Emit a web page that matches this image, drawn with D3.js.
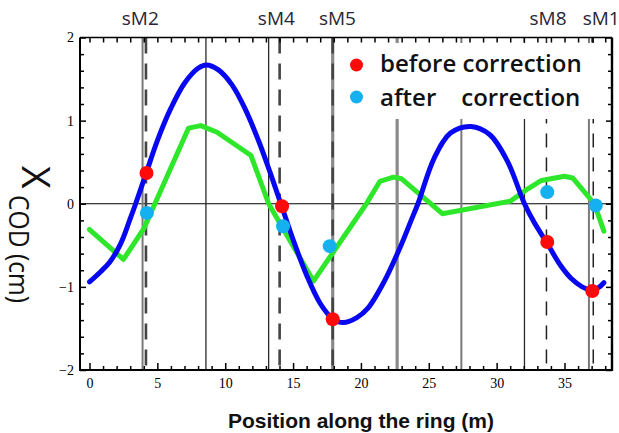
<!DOCTYPE html>
<html>
<head>
<meta charset="utf-8">
<script src="https://cdn.jsdelivr.net/npm/d3@7"></script>
<style>
  html, body { margin: 0; padding: 0; background: #fff; }
  svg { display: block; }
</style>
</head>
<body>
<svg id="chart" width="619" height="433"></svg>
<script>
// Closed-orbit distortion along the ring (m -> cm)
const orbitBeforeS = [0, 0.8, 1.5, 2.3, 3.0, 3.4, 4.2, 5.0, 6.0, 7.0, 8.0, 8.6, 9.5, 10.5, 11.5, 12.5, 13.3, 14.1,
  15.0, 16.0, 17.0, 17.9, 18.7, 19.7, 20.5, 21.7, 22.9, 23.7, 24.2, 25.4, 26.6, 28.1, 29.5, 30.8, 32.05,
  32.75, 33.7, 34.7, 35.5, 36.3, 37.0, 37.5, 37.9];
const orbitBeforeX = [-0.94, -0.82, -0.70, -0.48, -0.18, 0.0, 0.38, 0.76, 1.15, 1.45, 1.63, 1.67, 1.61, 1.43, 1.13, 0.74, 0.38, 0.0,
  -0.43, -0.86, -1.20, -1.38, -1.43, -1.37, -1.26, -0.94, -0.52, -0.20, 0.0, 0.55, 0.85, 0.93, 0.83, 0.51, 0.0,
  -0.22, -0.47, -0.74, -0.90, -1.00, -1.04, -1.01, -0.95];

const orbitAfterS = [0, 2.5, 4.0, 7.3, 8.2, 9.4, 11.9, 13.2, 16.5, 20.4, 21.4, 22.4, 23.0, 26.0, 31.0, 32.3, 33.3, 35.0, 35.6, 37.2, 37.9];
const orbitAfterX = [-0.31, -0.67, -0.30, 0.91, 0.94, 0.86, 0.58, 0.0, -0.93, 0.0, 0.27, 0.32, 0.30, -0.12, 0.03, 0.18, 0.28, 0.33, 0.31, 0.0, -0.33];

// Readings at the monitors
const beforeS = [4.2, 14.19, 17.92, 33.73, 37.05];
const beforeX = [0.37, -0.03, -1.39, -0.46, -1.05];
const afterS = [4.23, 14.26, 17.7, 33.73, 37.3];
const afterX = [-0.11, -0.27, -0.51, 0.14, -0.02];

// Element positions (m)
const magnetsThin = [8.58, 13.2, 32.05];
const magnetsGray = [3.91, 27.4, 36.8];
const magnetsWide = [17.92, 22.67];
const monitorsMain = [4.16, 14.01, 17.92];
const monitorsEnd = [33.67, 37.12];

const monitorNames = ["sM2", "sM4", "sM5", "sM8", "sM1"];
const monitorLabelS = [3.74, 13.77, 18.27, 33.79, 37.7];

const xTickMajor = [0, 5, 10, 15, 20, 25, 30, 35];
const yTickMajor = [-2, -1, 0, 1, 2];
const legendLabels = ["before correction", "after    correction"];

const svg = d3.select("#chart");
const pL = 80, pR = 612, pT = 37.5, pB = 370;

const x = d3.scaleLinear().domain([-0.7, 38.5]).range([pL, pR]);
const y = d3.scaleLinear().domain([-2, 2]).range([pB, pT]);

const plot = svg.append("g");

// zero line
plot.append("line")
  .attr("x1", pL).attr("x2", pR)
  .attr("y1", y(0)).attr("y2", y(0))
  .attr("stroke", "#000").attr("stroke-width", 1.2);

function vlines(data, stroke, width, dash) {
  plot.selectAll(null).data(data).enter().append("line")
    .attr("x1", d => x(d)).attr("x2", d => x(d))
    .attr("y1", pT).attr("y2", pB)
    .attr("stroke", stroke).attr("stroke-width", width)
    .attr("stroke-dasharray", dash || null);
}
vlines(magnetsWide, "#8a8a8a", 3.2);
vlines(magnetsGray, "#7a7a7a", 2);
vlines(magnetsThin, "#2a2a2a", 1.3);
vlines(monitorsMain, "#444", 2.6, "16,10");
vlines(monitorsEnd, "#222", 1.5, "14,10");

// legend background
plot.append("rect")
  .attr("x", 342).attr("y", 43).attr("width", 265).attr("height", 76)
  .attr("fill", "#fff");

// orbit curves
const lineBefore = d3.line().x(d => x(d[0])).y(d => y(d[1])).curve(d3.curveCatmullRom.alpha(0.5));
const lineAfter = d3.line().x(d => x(d[0])).y(d => y(d[1])).curve(d3.curveLinear);

plot.append("path")
  .datum(orbitAfterS.map((s, i) => [s, orbitAfterX[i]]))
  .attr("d", lineAfter)
  .attr("fill", "none").attr("stroke", "#2ee62a").attr("stroke-width", 5)
  .attr("stroke-linejoin", "round").attr("stroke-linecap", "round");

plot.append("path")
  .datum(orbitBeforeS.map((s, i) => [s, orbitBeforeX[i]]))
  .attr("d", lineBefore)
  .attr("fill", "none").attr("stroke", "#0808f0").attr("stroke-width", 5)
  .attr("stroke-linejoin", "round").attr("stroke-linecap", "round");

// monitor readings
plot.selectAll(null).data(beforeS.map((s, i) => [s, beforeX[i]])).enter().append("circle")
  .attr("cx", d => x(d[0])).attr("cy", d => y(d[1])).attr("r", 7).attr("fill", "#ff0a0a");
plot.selectAll(null).data(afterS.map((s, i) => [s, afterX[i]])).enter().append("circle")
  .attr("cx", d => x(d[0])).attr("cy", d => y(d[1])).attr("r", 7).attr("fill", "#14b0f0");

// axes
function styleAxis(g) {
  g.select(".domain").remove();
  g.selectAll(".tick line").attr("stroke", "#000").attr("stroke-width", 1.5);
  g.selectAll(".tick text").attr("fill", "#000")
    .attr("font-family", "'Liberation Serif', serif").attr("font-size", 14);
}
const xMinor = d3.range(0, 39).filter(v => v % 5 !== 0);
const yMinor = d3.range(-2, 2.001, 0.2).filter(v => Math.abs(v - Math.round(v)) > 1e-6);

svg.append("g").attr("transform", `translate(0,${pB})`)
  .call(d3.axisBottom(x).tickValues(xTickMajor).tickSizeInner(-7).tickSizeOuter(0).tickPadding(8).tickFormat(d3.format("d")))
  .call(styleAxis);
svg.append("g").attr("transform", `translate(0,${pB})`)
  .call(d3.axisBottom(x).tickValues(xMinor).tickSizeInner(-4).tickSizeOuter(0).tickFormat(""))
  .call(styleAxis);
svg.append("g").attr("transform", `translate(0,${pT})`)
  .call(d3.axisTop(x).tickValues(d3.range(0, 39)).tickSizeInner(-5).tickSizeOuter(0).tickFormat(""))
  .call(styleAxis);
svg.append("g").attr("transform", `translate(${pL},0)`)
  .call(d3.axisLeft(y).tickValues(yTickMajor).tickSizeInner(-6).tickSizeOuter(0).tickPadding(6).tickFormat(d3.format("d")))
  .call(styleAxis);
svg.append("g").attr("transform", `translate(${pL},0)`)
  .call(d3.axisLeft(y).tickValues(yMinor).tickSizeInner(-4).tickSizeOuter(0).tickFormat(""))
  .call(styleAxis);
svg.append("g").attr("transform", `translate(${pR},0)`)
  .call(d3.axisRight(y).tickValues(yTickMajor).tickSizeInner(-6).tickSizeOuter(0).tickFormat(""))
  .call(styleAxis);
svg.append("g").attr("transform", `translate(${pR},0)`)
  .call(d3.axisRight(y).tickValues(yMinor).tickSizeInner(-4).tickSizeOuter(0).tickFormat(""))
  .call(styleAxis);

// frame
const frame = svg.append("g").attr("stroke", "#000").attr("fill", "none");
frame.append("line").attr("x1", pL).attr("x2", pR).attr("y1", pT).attr("y2", pT).attr("stroke-width", 1.5);
frame.append("line").attr("x1", pL).attr("x2", pR + 1).attr("y1", pB).attr("y2", pB).attr("stroke-width", 2.2);
frame.append("line").attr("x1", pL).attr("x2", pL).attr("y1", pT).attr("y2", pB + 1).attr("stroke-width", 2);
frame.append("line").attr("x1", pR).attr("x2", pR).attr("y1", pT).attr("y2", pB + 1).attr("stroke-width", 2.4);

// monitor names along the top
svg.selectAll(null).data(monitorNames).enter().append("text")
  .attr("x", (d, i) => x(monitorLabelS[i])).attr("y", 25)
  .attr("text-anchor", "middle")
  .attr("font-family", "'Open Sans', sans-serif").attr("font-size", 19)
  .attr("fill", "#262636")
  .text(d => d);

// legend
const legendColors = ["#ff0a0a", "#14b0f0"];
const legend = svg.append("g");
legendLabels.forEach((label, i) => {
  legend.append("circle").attr("cx", 356.5).attr("cy", 65 + i * 32).attr("r", 6.5).attr("fill", legendColors[i]);
  legend.append("text")
    .attr("x", 380).attr("y", 72 + i * 33.5)
    .attr("font-family", "'Open Sans', sans-serif").attr("font-size", 24).attr("font-weight", 600)
    .attr("fill", "#111")
    .style("white-space", "pre")
    .text(label);
});

// axis titles
svg.append("text")
  .attr("transform", "translate(22,166) rotate(90)")
  .attr("font-family", "'Open Sans', sans-serif").attr("font-size", 39)
  .attr("fill", "#111")
  .text("X");
svg.append("text")
  .attr("transform", "translate(9,195) rotate(90)")
  .attr("font-family", "'Open Sans', sans-serif").attr("font-size", 28)
  .attr("fill", "#111")
  .attr("textLength", 108).attr("lengthAdjust", "spacingAndGlyphs")
  .text("COD (cm)");

svg.append("text")
  .attr("x", 361).attr("y", 428)
  .attr("text-anchor", "middle")
  .attr("font-family", "'Liberation Sans', Arial, sans-serif").attr("font-size", 21).attr("font-weight", "bold")
  .attr("fill", "#111")
  .text("Position along the ring (m)");
</script>
</body>
</html>
